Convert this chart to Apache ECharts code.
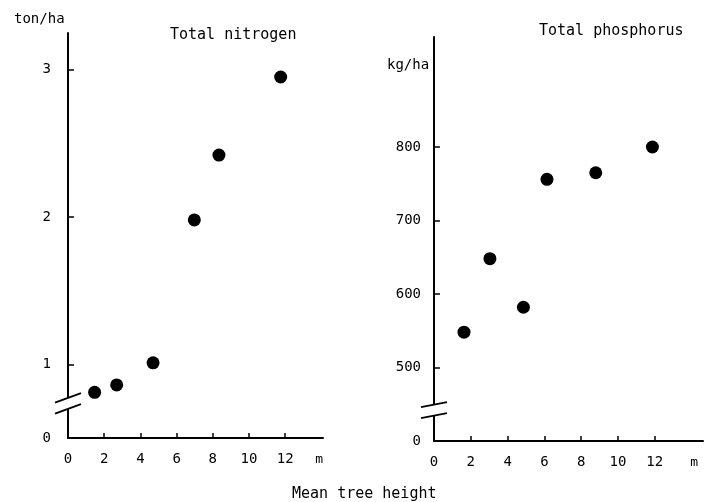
<!DOCTYPE html>
<html>
<head>
<meta charset="utf-8">
<script src="https://cdn.jsdelivr.net/npm/echarts@6/dist/echarts.min.js"></script>
<style>
  html, body { margin: 0; padding: 0; background: #fff; }
  #main { width: 706px; height: 502px; }
</style>
</head>
<body>
<div id="main"></div>
<script>
// mean tree height (m) and nutrient amounts
var nitrogenHeight = [1.47, 2.69, 4.7, 6.98, 8.34, 11.75]
var nitrogenValue = [0.81, 0.86, 1.01, 1.98, 2.42, 2.95]   // ton/ha
var phosphorusHeight = [1.63, 3.04, 4.86, 6.14, 8.79, 11.87]
var phosphorusValue = [548, 648, 582, 756, 765, 800]     // kg/ha
var xTicks = [0, 2, 4, 6, 8, 10, 12]
var nitrogenTicks = [1, 2, 3]
var phosphorusTicks = [500, 600, 700, 800]
// the axes are broken: the bottom of each axis stands for 0
var nitrogenBottom = 0.5
var phosphorusBottom = 400

const font = 'DejaVu Sans Mono'
var chart = echarts.init(document.getElementById('main'), null, { renderer: 'canvas' })

function pairs(xs, ys) {
  let out = []
  for (let i = 0; i < xs.length; i++) {
    out.push([xs[i], ys[i]])
  }
  return out
}

function xAxisOf(idx, max, nameGap) {
  return {
    type: 'value',
    gridIndex: idx,
    min: 0,
    max: max,
    name: 'm',
    nameLocation: 'end',
    nameGap: nameGap,
    nameTextStyle: {
      color: '#000', fontFamily: font, fontSize: 13,
      align: 'right', verticalAlign: 'top', padding: [15, 0, 0, 0]
    },
    splitLine: { show: false },
    axisLine: { lineStyle: { color: '#000', width: 2 } },
    axisTick: {
      inside: true, length: 5, lineStyle: { color: '#000', width: 1.5 },
      customValues: xTicks.slice(1)
    },
    axisLabel: {
      color: '#000', fontFamily: font, fontSize: 14, margin: 14,
      customValues: xTicks
    }
  }
}

function yAxisOf(idx, bottom, max, ticks, margin) {
  return {
    type: 'value',
    gridIndex: idx,
    min: bottom,
    max: max,
    splitLine: { show: false },
    axisLine: { onZero: false, lineStyle: { color: '#000', width: 2 } },
    axisTick: {
      inside: true, length: 6, lineStyle: { color: '#000', width: 1.5 },
      customValues: ticks
    },
    axisLabel: {
      color: '#000', fontFamily: font, fontSize: 14, margin: margin,
      customValues: [bottom].concat(ticks),
      formatter: function (v) {
        return v === bottom ? '0' : String(v)
      }
    }
  }
}

var option = {
  backgroundColor: '#fff',
  animation: false,
  title: [
    { text: 'Total nitrogen', left: 165, top: 23, textStyle: { fontFamily: font, fontSize: 15, fontWeight: 'normal', color: '#000' } },
    { text: 'Total phosphorus', left: 534, top: 19, textStyle: { fontFamily: font, fontSize: 15, fontWeight: 'normal', color: '#000' } },
    { text: 'ton/ha', left: 9, top: 7, textStyle: { fontFamily: font, fontSize: 14, fontWeight: 'normal', color: '#000' } },
    { text: 'kg/ha', left: 382, top: 53, textStyle: { fontFamily: font, fontSize: 14, fontWeight: 'normal', color: '#000' } },
    { text: 'Mean tree height', left: 287, top: 482, textStyle: { fontFamily: font, fontSize: 15, fontWeight: 'normal', color: '#000' } }
  ],
  grid: [
    { left: 68, top: 33, width: 255, height: 405 },
    { left: 434, top: 37, width: 269, height: 404 }
  ],
  xAxis: [
    xAxisOf(0, 255 / 18.1, 0),
    xAxisOf(1, 269 / 18.4, -5)
  ],
  yAxis: [
    yAxisOf(0, nitrogenBottom, nitrogenBottom + 405 / 147.35, nitrogenTicks, 17),
    yAxisOf(1, phosphorusBottom, phosphorusBottom + 404 * 100 / 73.5, phosphorusTicks, 13)
  ],
  series: [
    {
      name: 'Total nitrogen',
      type: 'scatter',
      xAxisIndex: 0,
      yAxisIndex: 0,
      symbolSize: 13,
      itemStyle: { color: '#000', opacity: 1 },
      data: pairs(nitrogenHeight, nitrogenValue)
    },
    {
      name: 'Total phosphorus',
      type: 'scatter',
      xAxisIndex: 1,
      yAxisIndex: 1,
      symbolSize: 13,
      itemStyle: { color: '#000', opacity: 1 },
      data: pairs(phosphorusHeight, phosphorusValue)
    }
  ]
}
chart.setOption(option)

// axis break marks, placed through the axes
function breakMark(gridIndex, value, slope) {
  let c = chart.convertToPixel({ gridIndex: gridIndex }, [0, value])
  let x = c[0], y = c[1]
  let half = 13, gap = 5.5
  let line = function (dy) {
    return {
      type: 'line',
      shape: { x1: x - half, y1: y + dy + half * slope, x2: x + half, y2: y + dy - half * slope },
      style: { stroke: '#000', lineWidth: 1.8 },
      z: 100
    }
  }
  return [
    {
      type: 'polygon',
      shape: { points: [[x - 3, y - gap + 3 * slope], [x + 3, y - gap - 3 * slope], [x + 3, y + gap - 3 * slope], [x - 3, y + gap + 3 * slope]] },
      style: { fill: '#fff' },
      z: 99
    },
    line(-gap),
    line(gap)
  ]
}

chart.setOption({
  graphic: breakMark(0, 0.735, 0.37).concat(breakMark(1, 442, 0.2))
})
</script>
</body>
</html>
